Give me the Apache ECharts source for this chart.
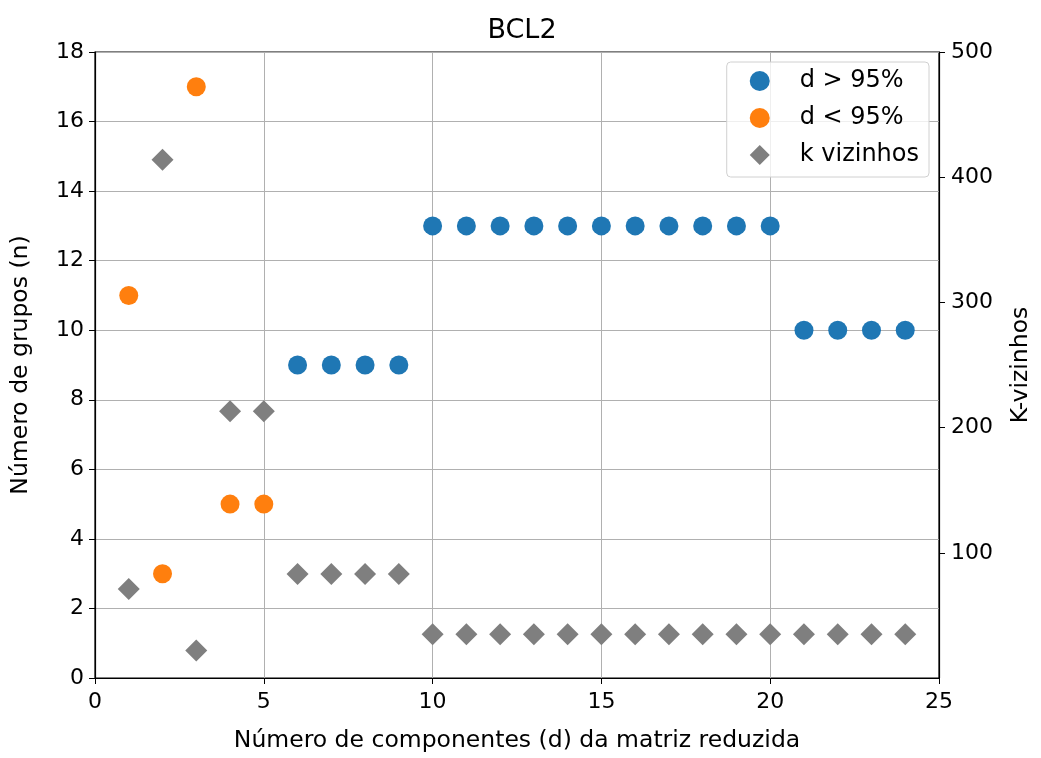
<!DOCTYPE html>
<html>
<head>
<meta charset="utf-8">
<script src="https://cdn.jsdelivr.net/npm/echarts@6/dist/echarts.min.js"></script>
<style>
  html, body { margin: 0; padding: 0; background: #fff; }
  #chart { width: 1041px; height: 758px; }
</style>
</head>
<body>
<div id="chart"></div>
<script>
// data
const aboveX = [6, 7, 8, 9, 10, 11, 12, 13, 14, 15, 16, 17, 18, 19, 20, 21, 22, 23, 24];
const aboveN = [9, 9, 9, 9, 13, 13, 13, 13, 13, 13, 13, 13, 13, 13, 13, 10, 10, 10, 10];
const belowX = [1, 2, 3, 4, 5];
const belowN = [11, 3, 17, 5, 5];
const kX = [1, 2, 3, 4, 5, 6, 7, 8, 9, 10, 11, 12, 13, 14, 15, 16, 17, 18, 19, 20, 21, 22, 23, 24];
const kVals = [71, 414, 22, 213, 213, 83, 83, 83, 83, 35, 35, 35, 35, 35, 35, 35, 35, 35, 35, 35, 35, 35, 35, 35];
const xTicks = [0, 5, 10, 15, 20, 25];
const leftTicks = [0, 2, 4, 6, 8, 10, 12, 14, 16, 18];
const rightTicks = [100, 200, 300, 400, 500];

const font = 'DejaVu Sans';
const fs = 22;    // tick labels
const fl = 23.5;  // axis names
const pairs = (xs, ys) => xs.map((x, i) => [x, ys[i]]);

const chart = echarts.init(document.getElementById('chart'));

chart.setOption({
  animation: false,
  textStyle: { fontFamily: font },
  title: {
    text: 'BCL2',
    left: 517, top: 12,
    textAlign: 'center',
    textStyle: { fontFamily: font, fontSize: 27, fontWeight: 'normal', color: '#000' }
  },
  legend: {
    orient: 'vertical',
    right: 112, top: 62,
    padding: [7, 10, 10, 23],
    itemGap: 13,
    itemWidth: 20, itemHeight: 20,
    backgroundColor: 'rgba(255,255,255,0.8)',
    borderColor: '#d0d0d0', borderWidth: 1, borderRadius: 4,
    textStyle: { fontFamily: font, fontSize: 24, lineHeight: 24, color: '#000', padding: [0, 0, 0, 25] },
    data: [
      { name: 'd > 95%', icon: 'circle' },
      { name: 'd < 95%', icon: 'circle' },
      { name: 'k vizinhos', icon: 'diamond' }
    ]
  },
  grid: {
    left: 95, right: 101, top: 52, bottom: 78,
    show: true, borderColor: '#000', borderWidth: 1.2
  },
  xAxis: {
    type: 'value', min: 0, max: 25, interval: 5,
    name: 'Número de componentes (d) da matriz reduzida',
    nameLocation: 'middle', nameGap: 51,
    nameTextStyle: { fontFamily: font, fontSize: fl, color: '#000' },
    axisLine: { show: true, lineStyle: { color: '#000', width: 1.2 } },
    axisTick: { show: true, length: 6, lineStyle: { color: '#000' } },
    axisLabel: { fontFamily: font, fontSize: fs, color: '#000', margin: 13,
      customValues: xTicks },
    splitLine: { show: true, lineStyle: { color: '#b0b0b0', width: 1 } }
  },
  yAxis: [
    {
      type: 'value', min: 0, max: 18, interval: 2,
      name: 'Número de grupos (n)',
      nameLocation: 'middle', nameGap: 62,
      nameTextStyle: { fontFamily: font, fontSize: fl, color: '#000' },
      axisLine: { show: true, lineStyle: { color: '#000', width: 1.2 } },
      axisTick: { show: true, length: 6, lineStyle: { color: '#000' } },
      axisLabel: { fontFamily: font, fontSize: fs, color: '#000', margin: 11,
        customValues: leftTicks },
      splitLine: { show: true, lineStyle: { color: '#b0b0b0', width: 1 } }
    },
    {
      type: 'value', min: 0, max: 500, interval: 100,
      position: 'right',
      name: 'K-vizinhos',
      nameLocation: 'middle', nameGap: 70, nameRotate: 90,
      nameTextStyle: { fontFamily: font, fontSize: fl, color: '#000' },
      axisLine: { show: true, lineStyle: { color: '#000', width: 1.2 } },
      axisTick: { show: true, length: 6, lineStyle: { color: '#000' },
        customValues: rightTicks },
      axisLabel: { fontFamily: font, fontSize: fs, color: '#000', margin: 12,
        customValues: rightTicks },
      splitLine: { show: false }
    }
  ],
  series: [
    {
      name: 'd > 95%', type: 'scatter', yAxisIndex: 0,
      symbol: 'circle', symbolSize: 19,
      itemStyle: { color: '#1f77b4', opacity: 1 },
      data: pairs(aboveX, aboveN), z: 3
    },
    {
      name: 'd < 95%', type: 'scatter', yAxisIndex: 0,
      symbol: 'circle', symbolSize: 19,
      itemStyle: { color: '#ff7f0e', opacity: 1 },
      data: pairs(belowX, belowN), z: 3
    },
    {
      name: 'k vizinhos', type: 'scatter', yAxisIndex: 1,
      symbol: 'diamond', symbolSize: 22,
      itemStyle: { color: '#7f7f7f', opacity: 1 },
      data: pairs(kX, kVals), z: 4
    }
  ]
});
</script>
</body>
</html>
